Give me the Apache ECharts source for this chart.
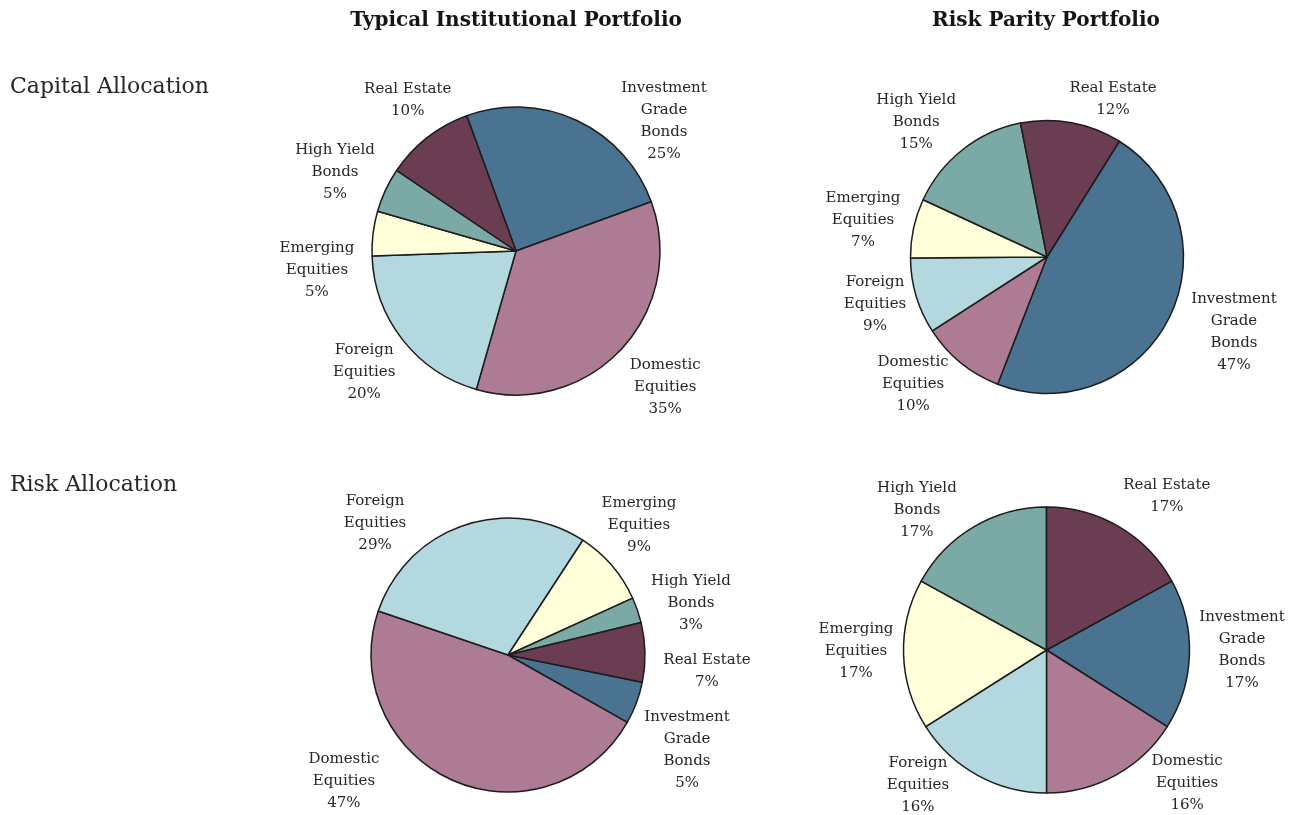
<!DOCTYPE html>
<html>
<head>
<meta charset="utf-8">
<script src="https://cdn.jsdelivr.net/npm/echarts@6/dist/echarts.min.js"></script>
<style>
  html, body { margin: 0; padding: 0; background: #ffffff; }
  #chart { width: 1289px; height: 815px; }
</style>
</head>
<body>
<div id="chart"></div>
<script>
// Asset classes, in the clockwise order shared by every pie
const assetClasses = ['Investment Grade Bonds', 'Domestic Equities', 'Foreign Equities',
                      'Emerging Equities', 'High Yield Bonds', 'Real Estate'];
const assetLabelLines = [['Investment', 'Grade', 'Bonds'], ['Domestic', 'Equities'], ['Foreign', 'Equities'],
                         ['Emerging', 'Equities'], ['High Yield', 'Bonds'], ['Real Estate']];

// Shares of each asset class, in percent
const typicalCapital    = [25, 35, 20, 5, 5, 10];
const riskParityCapital = [47, 10, 9, 7, 15, 12];
const typicalRisk       = [5, 47, 29, 9, 3, 7];
const riskParityRisk    = [17, 16, 16, 17, 17, 17];

const columnTitles = ['Typical Institutional Portfolio', 'Risk Parity Portfolio'];
const rowTitles = ['Capital Allocation', 'Risk Allocation'];

// Styling
const sliceColors = ['#4a7391', '#ad7b94', '#b3d8df', '#ffffd9', '#7ba9a5', '#6a3d53'];
const serif = 'DejaVu Serif';

// Pie geometry and label placement ([angle shift from slice middle in degrees, distance from centre in px])
const pieLayouts = [
  { values: typicalCapital, center: [516, 251], radius: 144, startAngle: 110,
    labels: [[-23.7, 197], [0.6, 202], [0.5, 194], [12.5, 200], [1.4, 197.5], [-2.4, 186]] },
  { values: riskParityCapital, center: [1047, 257], radius: 136.5, startAngle: 58,
    labels: [[4.7, 201.5], [-7.3, 184.6], [-1.3, 178.3], [0.8, 187.7], [5.9, 188], [-12.3, 171]] },
  { values: typicalRisk, center: [508, 655], radius: 137, startAngle: -11.5,
    labels: [[-7.4, 202.6], [-28.4, 206.8], [26.1, 187.4], [4.1, 184.6], [-3.2, 190.2], [-5.7, 199.6]] },
  { values: riskParityRisk, center: [1046.5, 650], radius: 143, startAngle: 28.8,
    labels: [[1.8, 195.5], [17.8, 193.5], [-14.8, 186.4], [-1.5, 190.5], [12.2, 190.7], [-7.4, 195.5]] }
];

const chart = echarts.init(document.getElementById('chart'), null, { renderer: 'canvas' });

// Centre each label block at a point set relative to its slice's middle angle
function labelPlacer(nudges) {
  return function (p) {
    const data = chart.getModel().getSeriesByIndex(p.seriesIndex).getData();
    const lay = data.getItemLayout(p.dataIndex);
    const mid = (lay.startAngle + lay.endAngle) / 2;
    const n = nudges[p.dataIndex];
    const a = mid - n[0] * Math.PI / 180;
    return {
      x: lay.cx + n[1] * Math.cos(a),
      y: lay.cy + n[1] * Math.sin(a),
      align: 'center',
      verticalAlign: 'middle'
    };
  };
}

const series = pieLayouts.map(function (pie) {
  return {
    type: 'pie',
    center: pie.center,
    radius: pie.radius,
    startAngle: pie.startAngle,
    clockwise: true,
    avoidLabelOverlap: false,
    animation: false,
    emphasis: { disabled: true },
    silent: true,
    itemStyle: { borderColor: '#1c1c1c', borderWidth: 1.5 },
    label: {
      show: true,
      position: 'outside',
      fontFamily: serif,
      fontSize: 15,
      lineHeight: 22,
      color: '#262626',
      formatter: function (p) {
        return assetLabelLines[p.dataIndex].concat([p.value + '%']).join('\n');
      }
    },
    labelLine: { show: false, length: 10, length2: 0 },
    labelLayout: labelPlacer(pie.labels),
    data: assetClasses.map(function (name, i) {
      return { name: name, value: pie.values[i], itemStyle: { color: sliceColors[i] } };
    })
  };
});

const headingStyle = { fontFamily: serif, fontWeight: 'bold', fontSize: 20, color: '#151515' };
const rowStyle = { fontFamily: serif, fontWeight: 'normal', fontSize: 22, color: '#262626' };

chart.setOption({
  backgroundColor: '#ffffff',
  animation: false,
  title: [
    { text: columnTitles[0], left: 516, top: 11, textAlign: 'center', padding: 0, textStyle: headingStyle },
    { text: columnTitles[1], left: 1046, top: 11, textAlign: 'center', padding: 0, textStyle: headingStyle },
    { text: rowTitles[0], left: 10, top: 76, padding: 0, textStyle: rowStyle },
    { text: rowTitles[1], left: 10, top: 474, padding: 0, textStyle: rowStyle }
  ],
  series: series
});
</script>
</body>
</html>
